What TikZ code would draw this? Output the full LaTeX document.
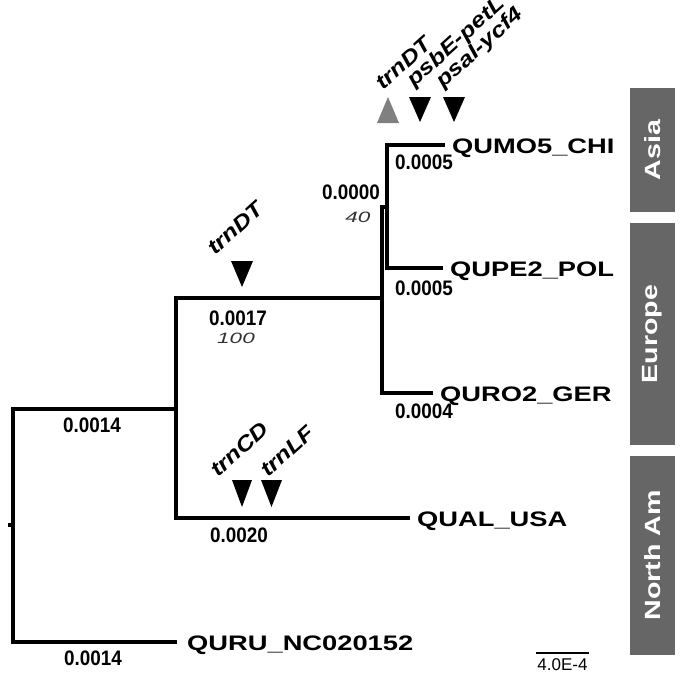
\documentclass[tikz,border=0pt]{standalone}
\usepackage{fontspec}
\setmainfont{Liberation Sans}
\newfontfamily\taxonfont[FakeStretch=1.3]{Liberation Sans}
\newfontfamily\genefont[FakeStretch=1.2]{Liberation Sans}
\newfontfamily\bootfont[FakeStretch=1.5]{Liberation Sans}
\newfontfamily\numfont[FakeStretch=0.9]{Liberation Sans}
\usepackage{tikz}
\usetikzlibrary{positioning}
\usepackage{xcolor}
\definecolor{regioncolor}{HTML}{666666}
\definecolor{gaincolor}{HTML}{808080}

\begin{document}
\begin{tikzpicture}[
    x=1pt, y=-1pt,
    branch/.style={line width=3.1pt},
    taxon/.style={anchor=base west, inner sep=0pt, font=\taxonfont\bfseries\fontsize{21}{21}\selectfont},
    blen/.style={inner sep=0pt, font=\numfont\bfseries\fontsize{21}{21}\selectfont},
    boot/.style={inner sep=0pt, text=black!80, font=\bootfont\itshape\fontsize{15}{15}\selectfont},
    gene/.style={anchor=base west, inner sep=0pt, rotate=42, font=\genefont\bfseries\itshape\fontsize{21}{21}\selectfont},
    region/.style={fill=regioncolor, rotate=90, minimum height=45pt, inner sep=0pt, text=white, font=\taxonfont\bfseries\fontsize{22}{22}\selectfont},
    loss/.style={fill=black},
    gain/.style={fill=gaincolor},
]
\useasboundingbox (0,0) rectangle (683,683);

% Tree nodes
\coordinate (root) at (13,525);
\coordinate (stub) at (8,525);
\coordinate (n1) at (176,409);
\coordinate (n2) at (382,298);
\coordinate (n3) at (387,207);
\coordinate (quru) at (177,642);
\coordinate (qual) at (410,518);
\coordinate (qumo) at (445,145);
\coordinate (qupe) at (443,268);
\coordinate (quro) at (433,393);

% Branches
\draw[branch] (stub) -- (root);
\draw[branch] (root) |- (n1);
\draw[branch] (root) |- (quru);
\draw[branch] (n1) |- (n2);
\draw[branch] (n1) |- (qual);
\draw[branch] (n2) |- (n3);
\draw[branch] (n2) |- (quro);
\draw[branch] (n3) |- (qumo);
\draw[branch] (n3) |- (qupe);

% Taxa
\node[taxon] (tqumo) at ([xshift=7pt, yshift=-8pt]qumo) {QUMO5\_CHI};
\node[taxon] (tqupe) at ([xshift=7pt, yshift=-8pt]qupe) {QUPE2\_POL};
\node[taxon] (tquro) at ([xshift=7pt, yshift=-8pt]quro) {QURO2\_GER};
\node[taxon] (tqual) at ([xshift=7pt, yshift=-8pt]qual) {QUAL\_USA};
\node[taxon] (tquru) at ([xshift=10pt, yshift=-8pt]quru) {QURU\_NC020152};

% Branch lengths and support
\node[blen] (l1) at (92,425) {0.0014};
\node[blen] (l2) at (93,658) {0.0014};
\node[blen] (l3) at (238,318) {0.0017};
\node[boot] (b3) at (236,338) {100};
\node[blen] (l4) at (239,535) {0.0020};
\node[blen] (l5) at (351,192) {0.0000};
\node[boot] (b5) at (358,217) {40};
\node[blen] (l6) at (424,162) {0.0005};
\node[blen] (l7) at (424,288) {0.0005};
\node[blen] (l8) at (424,411) {0.0004};

% Indels
\fill[gain] (377,123) -- (399,123) -- (388,97) -- cycle;
\fill[loss] (409,97) -- (431,97) -- (420,122) -- cycle;
\fill[loss] (443,97) -- (465,97) -- (454,122) -- cycle;
\fill[loss] (231,261) -- (253,261) -- (242,287) -- cycle;
\fill[loss] (232,480) -- (252,480) -- (242,507) -- cycle;
\fill[loss] (261,480) -- (282,480) -- (271.5,507) -- cycle;

\node[gene] (g1) at (383,91) {trnDT};
\node[gene] (g2) at (414,88) {psbE-petL};
\node[gene] (g3) at (443,89) {psaI-ycf4};
\node[gene] (g4) at (215,256) {trnDT};
\node[gene] (g5) at (218,478) {trnCD};
\node[gene] (g6) at (268,478) {trnLF};

% Regions
\node[region, minimum width=124pt] (asia) at (652.5,150) {Asia};
\node[region, minimum width=222pt] (europe) at (652.5,334) {Europe};
\node[region, minimum width=199pt] (noram) at (652.5,555.5) {North Am};

% Scale bar
\coordinate (sbl) at (536,653);
\coordinate (sbr) at (589,653);
\draw[line width=2.6pt] (sbl) -- (sbr);
\node[inner sep=0pt, anchor=north, font=\fontsize{17}{17}\selectfont] (sblabel) at (562.5,658) {4.0E-4};

\end{tikzpicture}
\end{document}
